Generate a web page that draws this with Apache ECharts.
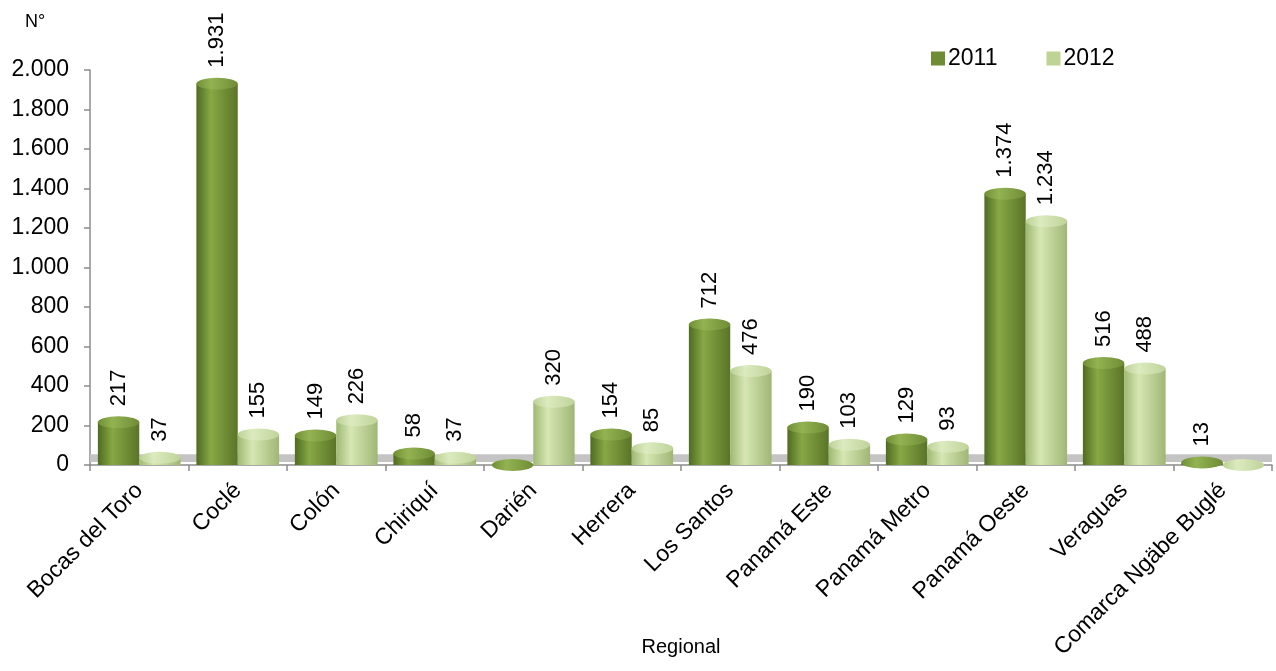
<!DOCTYPE html>
<html>
<head>
<meta charset="utf-8">
<script src="https://cdn.jsdelivr.net/npm/echarts@6/dist/echarts.min.js"></script>
<style>html,body{margin:0;padding:0;background:#fff;}#c{width:1276px;height:671px;}</style>
</head>
<body>
<div id="c"></div>
<script>
const categories = ['Bocas del Toro','Coclé','Colón','Chiriquí','Darién','Herrera','Los Santos','Panamá Este','Panamá Metro','Panamá Oeste','Veraguas','Comarca Ngäbe Buglé'];
const seriesNames = ['2011','2012'];
const values2011 = [217,1931,149,58,0,154,712,190,129,1374,516,13];
const values2012 = [37,155,226,37,320,85,476,103,93,1234,488,0];
const yTicks = {min:0, max:2000, interval:200};

function fmt(v){ return String(v).replace(/\B(?=(\d{3})+(?!\d))/g,'.'); }

const FONT = 'Liberation Sans, Arial, sans-serif';
function grad(a,b,c){
  return new echarts.graphic.LinearGradient(0,0,1,0,[
    {offset:0,color:a},{offset:0.35,color:b},{offset:1,color:c}
  ]);
}
const c2011 = grad('#4f6b21','#87a845','#5a7427');
const c2012 = grad('#9fb873','#d6e7b3','#a0b676');
const top2011 = grad('#6f8f34','#93b352','#6f8c35');
const top2012 = grad('#bcd096','#dcebbf','#bfd39a');
const ELLIPSE = 'path://M0 50 A50 50 0 1 1 100 50 A50 50 0 1 1 0 50 Z';

const chart = echarts.init(document.getElementById('c'));
const labelCfg = {
  show:true, position:'top', rotate:90, distance:16,
  align:'left', verticalAlign:'middle',
  fontFamily:FONT, fontSize:22, color:'#000',
  formatter:p => p.value ? fmt(p.value) : ''
};
chart.setOption({
  animation:false,
  textStyle:{fontFamily:FONT},
  grid:{left:90,right:4,top:70,bottom:206,containLabel:false,outerBoundsMode:'none'},
  legend:{
    left:926, top:42, itemWidth:14, itemHeight:14, itemGap:49,
    icon:'rect',
    textStyle:{fontFamily:FONT,fontSize:23,color:'#000',padding:[0,0,0,-2]},
    data:[{name:'2011',itemStyle:{color:'#6f8c35'}},{name:'2012',itemStyle:{color:'#bfd394'}}]
  },
  title:[
    {text:'N°',left:20,top:8,textStyle:{fontFamily:FONT,fontSize:18,fontWeight:'normal',color:'#000'}},
  ],
  xAxis:{
    type:'category', data:categories,
    name:'Regional', nameLocation:'middle', nameGap:172, nameMoveOverlap:false,
    nameTextStyle:{fontFamily:FONT,fontSize:20,color:'#000'},
    axisLine:{lineStyle:{color:'#8c8c8c',width:1.5}},
    axisTick:{show:true,alignWithLabel:false,length:6,lineStyle:{color:'#8c8c8c',width:1.5}},
    axisLabel:{rotate:45,fontFamily:FONT,fontSize:23,color:'#000',margin:22,interval:0}
  },
  yAxis:{
    type:'value', min:yTicks.min, max:yTicks.max, interval:yTicks.interval,
    axisLine:{show:true,lineStyle:{color:'#8c8c8c',width:1.5}},
    axisTick:{show:true,length:6,lineStyle:{color:'#8c8c8c',width:1.5}},
    splitLine:{show:false},
    axisLabel:{fontFamily:FONT,fontSize:23,color:'#000',margin:21,formatter:v=>fmt(v)}
  },
  series:[
    {
      name:seriesNames[0], type:'bar', data:values2011, barGap:'0%', barCategoryGap:'16%',
      itemStyle:{color:c2011}, label:labelCfg, z:3,
      markArea:{silent:true, itemStyle:{color:'#c4c4c4'}, data:[[{yAxis:15},{yAxis:55}]], z:1}
    },
    {
      name:seriesNames[1], type:'bar', data:values2012, barGap:'0%', barCategoryGap:'16%',
      itemStyle:{color:c2012}, label:labelCfg, z:3
    },
    {
      name:seriesNames[0], type:'pictorialBar', data:values2011, symbol:ELLIPSE,
      symbolSize:['100%',12], symbolPosition:'end', symbolOffset:[0,'-50%'],
      barGap:'0%', barCategoryGap:'16%', itemStyle:{color:top2011}, z:4, legendHoverLink:false
    },
    {
      name:seriesNames[1], type:'pictorialBar', data:values2012, symbol:ELLIPSE,
      symbolSize:['100%',12], symbolPosition:'end', symbolOffset:[0,'-50%'],
      barGap:'0%', barCategoryGap:'16%', itemStyle:{color:top2012}, z:4, legendHoverLink:false
    }
  ]
});
</script>
</body>
</html>
